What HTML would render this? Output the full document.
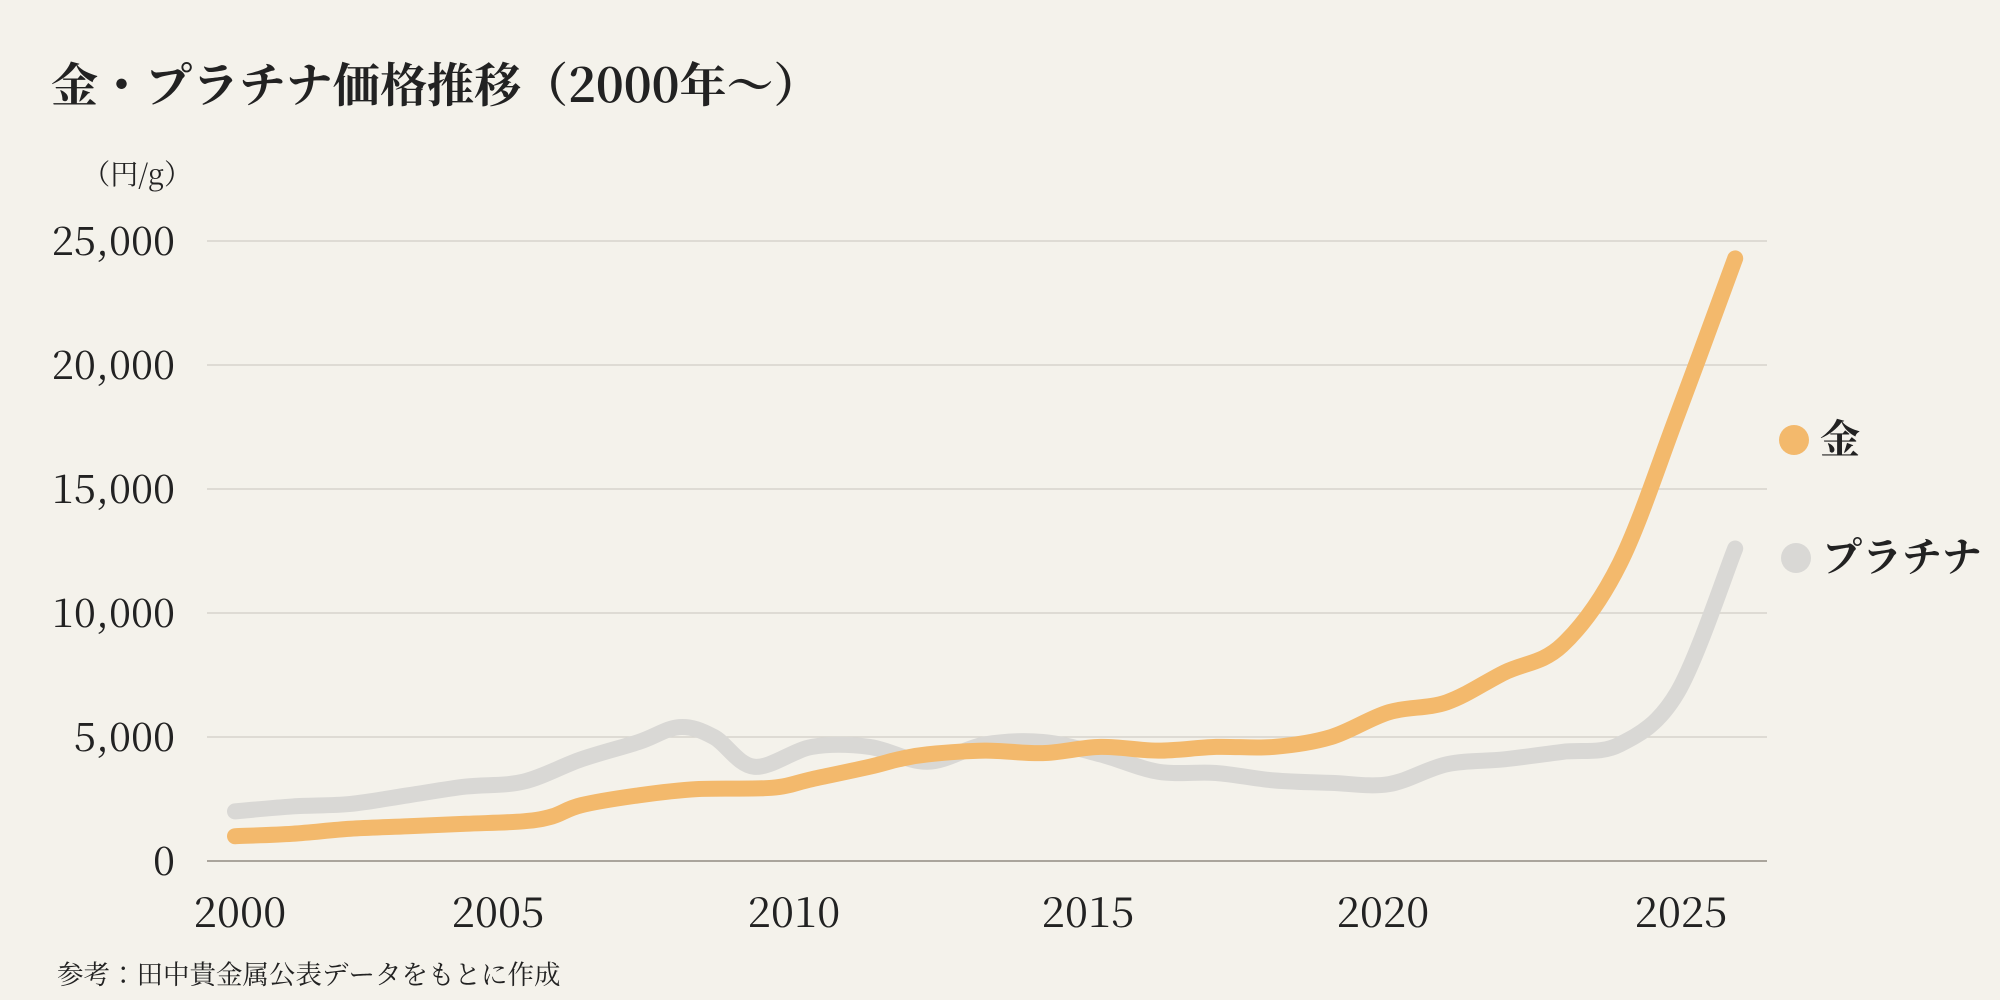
<!DOCTYPE html>
<html><head><meta charset="utf-8"><style>
html,body{margin:0;padding:0;background:#f4f2eb;}
svg{display:block}
text{font-family:"Noto Serif CJK JP","Noto Serif CJK SC","Liberation Serif",serif;fill:#222;}
</style></head><body>
<svg id="s" width="2000" height="1000" viewBox="0 0 2000 1000">
<rect width="2000" height="1000" fill="#f4f2eb"/>
<text x="51" y="102" font-size="47" font-weight="bold">金・プラチナ価格推移（2000年～）</text>
<text x="192" y="184" font-size="28" text-anchor="end">（円/g）</text>
<g stroke="#d6d3cc" stroke-width="1.5">
<line x1="207" y1="241" x2="1767" y2="241"/>
<line x1="207" y1="365" x2="1767" y2="365"/>
<line x1="207" y1="489" x2="1767" y2="489"/>
<line x1="207" y1="613" x2="1767" y2="613"/>
<line x1="207" y1="737" x2="1767" y2="737"/>
</g>
<line x1="207" y1="861" x2="1767" y2="861" stroke="#aaa59c" stroke-width="2"/>
<g font-size="40" text-anchor="end">
<text x="175" y="255">25,000</text>
<text x="175" y="379">20,000</text>
<text x="175" y="503">15,000</text>
<text x="175" y="627">10,000</text>
<text x="175" y="751">5,000</text>
<text x="175" y="875">0</text>
</g>
<g font-size="42" text-anchor="middle">
<text x="240" y="927">2000</text>
<text x="498" y="927">2005</text>
<text x="794" y="927">2010</text>
<text x="1088" y="927">2015</text>
<text x="1383" y="927">2020</text>
<text x="1681" y="927">2025</text>
</g>
<path id="pt" fill="none" stroke="#d9d8d5" stroke-width="16" stroke-linecap="round" stroke-linejoin="round"/>
<path id="au" fill="none" stroke="#f3b96c" stroke-width="16" stroke-linecap="round" stroke-linejoin="round"/>
<circle cx="1794" cy="440" r="15" fill="#f3b96c"/>
<text x="1820" y="453" font-size="40" font-weight="bold">金</text>
<circle cx="1796" cy="558" r="15" fill="#d9d8d5"/>
<text x="1822" y="571" font-size="40" font-weight="bold">プラチナ</text>
<text x="57" y="984" font-size="26.5">参考：田中貴金属公表データをもとに作成</text>
</svg>
<script>
function X(y){return 235+57.7*(y-2000);}
function Y(v){return 861-v*0.0248;}
var gold=[[2000,1000],[2001,1100],[2002,1300],[2003,1400],[2004,1500],[2005,1600],[2005.5,1800],[2006,2250],[2007,2650],[2008,2900],[2009.3,2950],[2010,3300],[2011,3800],[2011.5,4100],[2012,4300],[2013,4450],[2014,4350],[2015,4600],[2016,4450],[2017,4600],[2018,4600],[2019,5000],[2020,6000],[2021,6400],[2022,7600],[2023,8700],[2024,12000],[2025,18000],[2026,24300]];
var plat=[[2000,2000],[2001,2200],[2002,2300],[2003,2650],[2004,3000],[2005,3200],[2006,4100],[2007,4800],[2007.7,5400],[2008.3,5000],[2009,3800],[2010,4600],[2011,4600],[2012,4000],[2013,4700],[2014,4800],[2015,4300],[2016,3600],[2017,3550],[2018,3250],[2019,3150],[2020,3100],[2021,3900],[2022,4100],[2023,4400],[2024,4700],[2025,6800],[2026,12600]];
function path(d){var p=d.map(function(a){return [X(a[0]),Y(a[1])];});var s="M"+p[0][0]+","+p[0][1];
for(var i=0;i<p.length-1;i++){var p0=p[Math.max(0,i-1)],p1=p[i],p2=p[i+1],p3=p[Math.min(p.length-1,i+2)];
var c1x=p1[0]+(p2[0]-p0[0])/6,c1y=p1[1]+(p2[1]-p0[1])/6,c2x=p2[0]-(p3[0]-p1[0])/6,c2y=p2[1]-(p3[1]-p1[1])/6;
s+=" C"+c1x+","+c1y+" "+c2x+","+c2y+" "+p2[0]+","+p2[1];}return s;}
document.getElementById("au").setAttribute("d",path(gold));
document.getElementById("pt").setAttribute("d",path(plat));
</script>
</body></html>
